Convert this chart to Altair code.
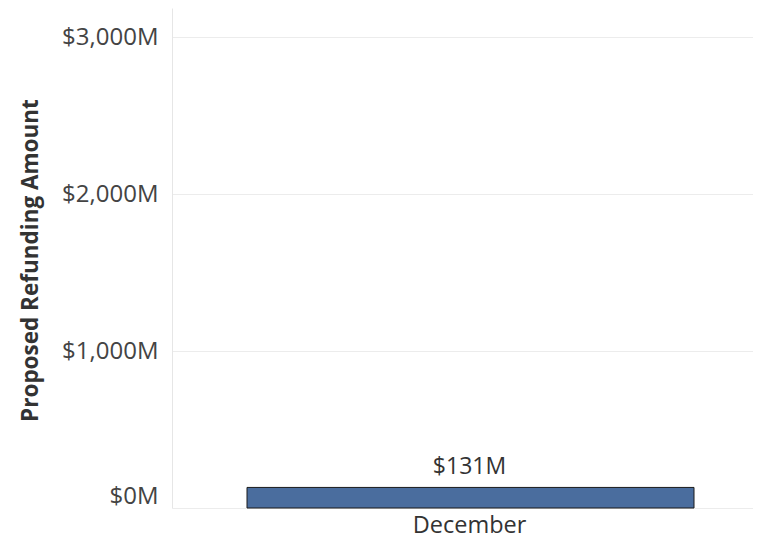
import altair as alt
import pandas as pd

months = ["December"]
amounts = [131]
tick_values = [0, 1000, 2000, 3000]

df = pd.DataFrame({"Month": months, "Amount": amounts})

FONT = "Open Sans"

base = alt.Chart(df).encode(
    x=alt.X("Month:N", title=None,
            axis=alt.Axis(labelAngle=0, ticks=False, domain=False, labelFontSize=23.5,
                          labelFont=FONT, labelColor="#333333", labelPadding=5, labelOffset=7)),
    y=alt.Y("Amount:Q", title="Proposed Refunding Amount",
            scale=alt.Scale(domain=[0, 3185], nice=False),
            axis=alt.Axis(values=tick_values,
                          labelExpr="'$' + format(datum.value, ',') + 'M'",
                          labelFontSize=24, labelFont=FONT, labelColor="#444444",
                          labelPadding=14, ticks=False, labelFlush=True,
                          domain=True, domainColor="#e6e6e6",
                          grid=True, gridColor="#ececec",
                          titleFont=FONT, titleFontSize=22.5, titleFontWeight="bold",
                          titleColor="#333333", titleX=-142, titleY=252,
                          titleAngle=270, titleAlign="center", titleBaseline="middle")),
)

bars = base.mark_bar(size=447, xOffset=8, color="#4a6d9e", stroke="#1a1a1a", strokeWidth=1)
labels = base.mark_text(baseline="bottom", dy=-8, xOffset=7, font=FONT, fontSize=23,
                        color="#333333").transform_calculate(
    lbl="'$' + format(datum.Amount, ',') + 'M'"
).encode(text="lbl:N")

chart = (bars + labels).properties(
    width=581, height=500,
    autosize=alt.AutoSizeParams(type="none"),
    padding={"left": 164, "top": 0, "right": 0, "bottom": 30},
).configure(background="white").configure_view(strokeWidth=0)

chart.save("out.html", embed_options={"renderer": "svg", "actions": False})
